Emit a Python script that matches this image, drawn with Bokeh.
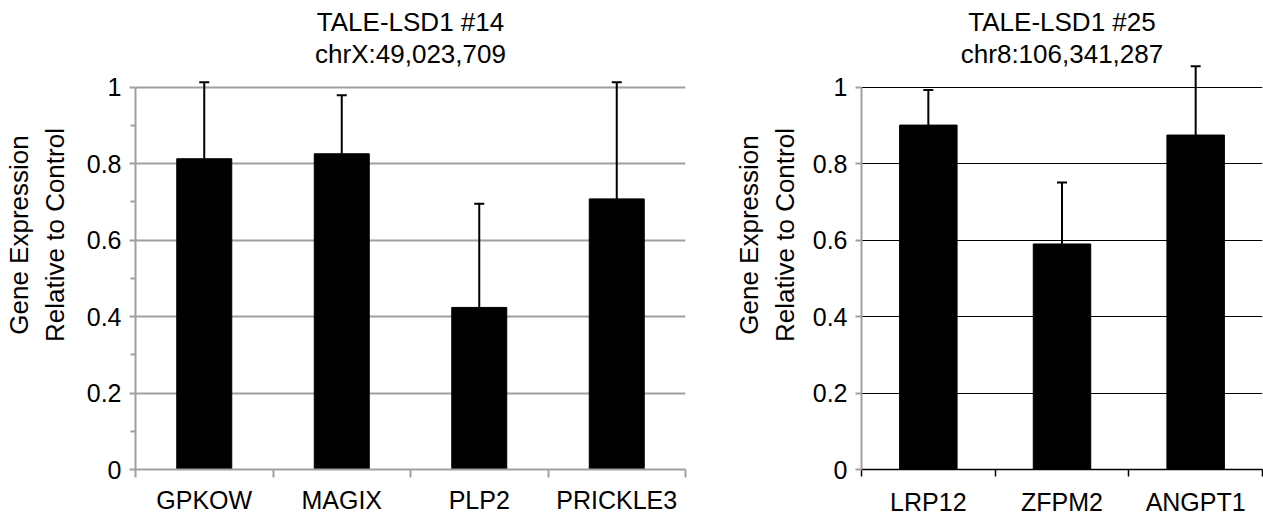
from bokeh.plotting import figure
from bokeh.models import Range1d, FixedTicker, Whisker, TeeHead, ColumnDataSource
from bokeh.layouts import row
from bokeh.embed import file_html
from bokeh.resources import INLINE
from bokeh.core.properties import value

# ---------------- data ----------------
left_title = ["TALE-LSD1 #14", "chrX:49,023,709"]
left_genes = ["GPKOW", "MAGIX", "PLP2", "PRICKLE3"]
left_values = [0.813, 0.826, 0.424, 0.708]
left_errors = [0.200, 0.153, 0.271, 0.305]

right_title = ["TALE-LSD1 #25", "chr8:106,341,287"]
right_genes = ["LRP12", "ZFPM2", "ANGPT1"]
right_values = [0.901, 0.590, 0.875]
right_errors = [0.092, 0.161, 0.180]

y_ticks = [0, 0.2, 0.4, 0.6, 0.8, 1.0]
y_tick_labels = ["0", "0.2", "0.4", "0.6", "0.8", "1"]
y_minor_ticks = [0.1, 0.3, 0.5, 0.7, 0.9]
y_axis_title = "Gene Expression\nRelative to Control"

# ---------------- style ----------------
FONT = "Liberation Sans"
FS = "25px"
TITLE_FS = "26px"
GRAY = "#A0A0A0"
Y_END = 1.227
TITLE_Y = [1.170, 1.086]


def make_chart(genes, values, errors, title_lines, *, bar_width, min_left,
               frame_w, min_right, grid_color, grid_width, xaxis_color,
               xaxis_width, minor, label_standoff, xlabel_standoff, xtick_out):
    n = len(genes)
    centers = [i + 0.5 for i in range(n)]
    p = figure(frame_width=frame_w, height=518,
               x_range=Range1d(0, n), y_range=Range1d(0, Y_END),
               output_backend="svg", toolbar_location=None,
               min_border_left=min_left, min_border_right=min_right,
               min_border_top=0, min_border_bottom=46)
    p.outline_line_color = None
    p.background_fill_color = "white"
    p.border_fill_color = "white"

    src = ColumnDataSource(dict(x=centers, top=values,
                                upper=[v + e for v, e in zip(values, errors)]))
    p.vbar(x="x", top="top", width=bar_width, source=src,
           fill_color="black", line_color="black")
    w = Whisker(source=src, base="x", lower="top", upper="upper",
                line_color="black", line_width=2,
                upper_head=TeeHead(size=10, line_width=2, line_color="black"),
                lower_head=None)
    p.add_layout(w)

    p.text(x=[n / 2, n / 2], y=TITLE_Y, text=title_lines,
           text_font=value(FONT), text_font_size=TITLE_FS, text_align="center",
           text_baseline="alphabetic", text_color="black")

    # x axis
    xa = p.xaxis[0]
    xa.ticker = FixedTicker(ticks=centers, minor_ticks=list(range(n + 1)))
    xa.major_label_overrides = {c: g for c, g in zip(centers, genes)}
    xa.major_tick_out = 0
    xa.major_tick_in = 0
    xa.minor_tick_out = xtick_out
    xa.minor_tick_in = 0
    xa.minor_tick_line_color = xaxis_color
    xa.minor_tick_line_width = xaxis_width
    xa.axis_line_color = xaxis_color
    xa.axis_line_width = xaxis_width
    xa.major_label_text_font = FONT
    xa.major_label_text_font_size = FS
    xa.major_label_text_color = "black"
    xa.major_label_standoff = xlabel_standoff

    # y axis
    ya = p.yaxis[0]
    ya.ticker = FixedTicker(ticks=y_ticks, minor_ticks=y_minor_ticks if minor else [])
    ya.major_label_overrides = {t: l for t, l in zip(y_ticks, y_tick_labels)}
    ya.bounds = (0, 1)
    ya.axis_line_color = GRAY
    ya.axis_line_width = 2
    ya.major_tick_line_color = GRAY
    ya.major_tick_line_width = 2
    ya.major_tick_out = 6
    ya.major_tick_in = 0
    ya.minor_tick_line_color = GRAY if minor else None
    ya.minor_tick_line_width = 2
    ya.minor_tick_out = 5
    ya.minor_tick_in = 0
    ya.major_label_text_font = FONT
    ya.major_label_text_font_size = FS
    ya.major_label_text_color = "black"
    ya.major_label_standoff = 8
    ya.axis_label = y_axis_title
    ya.axis_label_text_font = FONT
    ya.axis_label_text_font_size = TITLE_FS
    ya.axis_label_text_font_style = "normal"
    ya.axis_label_text_color = "black"
    ya.axis_label_standoff = label_standoff

    p.xgrid.visible = False
    p.ygrid.grid_line_color = grid_color
    p.ygrid.grid_line_width = grid_width
    return p


p1 = make_chart(left_genes, left_values, left_errors, left_title,
                bar_width=0.4, min_left=132, frame_w=550, min_right=18,
                grid_color=GRAY, grid_width=2, xaxis_color=GRAY, xaxis_width=2,
                minor=True, label_standoff=14, xlabel_standoff=8, xtick_out=8)
p2 = make_chart(right_genes, right_values, right_errors, right_title,
                bar_width=0.43, min_left=158, frame_w=401, min_right=4,
                grid_color="black", grid_width=1, xaxis_color="black", xaxis_width=1.5,
                minor=False, label_standoff=10, xlabel_standoff=11, xtick_out=7)

layout = row(p1, p2)
open("out.html", "w").write(file_html(layout, INLINE))
